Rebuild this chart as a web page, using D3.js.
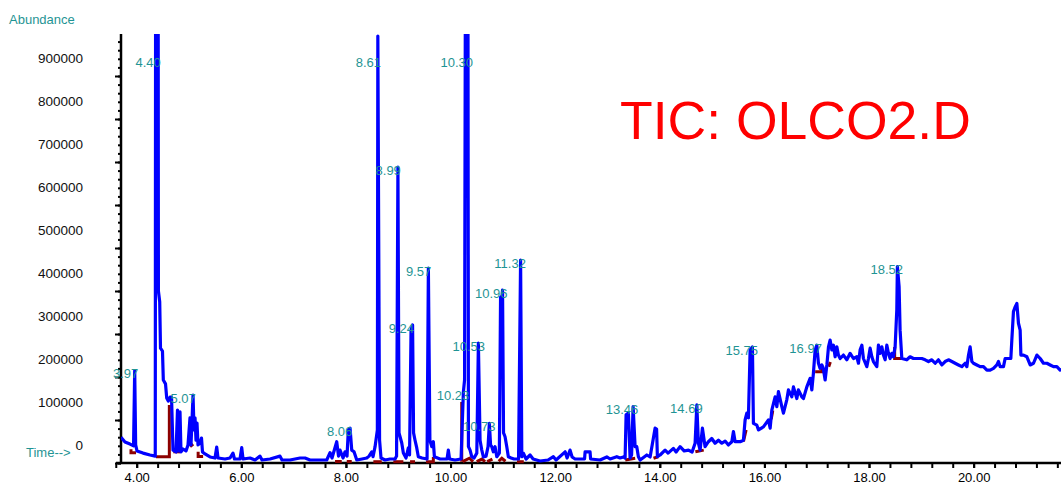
<!DOCTYPE html>
<html><head><meta charset="utf-8">
<script src="https://cdn.jsdelivr.net/npm/d3@7"></script>
<style>html,body{margin:0;padding:0;background:#fff;} svg{display:block;font-family:"Liberation Sans",Arial,sans-serif;}</style>
</head><body><svg id="chart" width="1061" height="484"></svg>
<script>
// ---- data ----
const ticTrace = [[3.700,60000],[3.776,49000],[3.872,44000],[3.940,40000],[3.962,215000],[3.980,42000],[4.006,28000],[4.121,23000],[4.254,18600],[4.355,16000],[4.362,1200000],[4.410,1200000],[4.415,400000],[4.440,375000],[4.455,267000],[4.493,260000],[4.509,193000],[4.551,184000],[4.574,151000],[4.604,144000],[4.637,153000],[4.666,153000],[4.694,30000],[4.752,25600],[4.780,123000],[4.799,28000],[4.828,119000],[4.847,25600],[4.885,32600],[4.943,28000],[4.981,42000],[5.019,105000],[5.038,42000],[5.058,100000],[5.077,158000],[5.096,77000],[5.115,105000],[5.134,53000],[5.153,93000],[5.172,42000],[5.211,46500],[5.239,58000],[5.258,25600],[5.306,21000],[5.402,14000],[5.497,11600],[5.530,37000],[5.555,11600],[5.689,9300],[5.784,11600],[5.841,23000],[5.870,9300],[5.975,9300],[6.008,35600],[6.033,9300],[6.167,11600],[6.262,7000],[6.358,16000],[6.396,7000],[6.549,9300],[6.740,16000],[6.778,7000],[6.931,7000],[7.027,9300],[7.123,11600],[7.218,11600],[7.314,7000],[7.505,7000],[7.633,7000],[7.696,24000],[7.734,11600],[7.824,49500],[7.858,16000],[7.887,30000],[7.945,11600],[7.983,26000],[8.021,16000],[8.046,77000],[8.079,81000],[8.111,30000],[8.155,26000],[8.207,7000],[8.308,9300],[8.398,11600],[8.442,16000],[8.494,26000],[8.518,14600],[8.557,38000],[8.601,77000],[8.610,993000],[8.643,53000],[8.671,11600],[8.748,7000],[8.843,9300],[8.939,9300],[8.968,16000],[8.994,688000],[9.015,70000],[9.067,46500],[9.098,23000],[9.149,11600],[9.193,35000],[9.216,18600],[9.245,309000],[9.274,321000],[9.293,70000],[9.321,53000],[9.354,35000],[9.384,14600],[9.455,11600],[9.551,9300],[9.576,453000],[9.605,53000],[9.641,38000],[9.671,49500],[9.691,14600],[9.800,9300],[9.933,9300],[9.958,30000],[9.981,9300],[10.086,7000],[10.201,9300],[10.245,165000],[10.268,193000],[10.285,1200000],[10.332,1200000],[10.342,38000],[10.373,30000],[10.406,14600],[10.450,11600],[10.502,23000],[10.532,279000],[10.564,53000],[10.597,30000],[10.628,14000],[10.679,16000],[10.717,38000],[10.742,92000],[10.765,42000],[10.788,38000],[10.818,26000],[10.851,38000],[10.884,14600],[10.933,23000],[10.956,386000],[10.975,367000],[10.994,402000],[11.013,70000],[11.042,61000],[11.075,38000],[11.105,14600],[11.157,11600],[11.214,9300],[11.300,9300],[11.339,472000],[11.362,14600],[11.392,22600],[11.444,9300],[11.520,18600],[11.578,9300],[11.711,4700],[11.864,7000],[11.966,14600],[12.017,7000],[12.190,26000],[12.228,11600],[12.285,30000],[12.324,14000],[12.381,9300],[12.477,9300],[12.562,9300],[12.572,26000],[12.667,26000],[12.677,9300],[12.859,7000],[12.987,14000],[13.050,9300],[13.178,14600],[13.241,11600],[13.304,14000],[13.337,11600],[13.356,112000],[13.400,116000],[13.432,11600],[13.461,18600],[13.490,131000],[13.528,38000],[13.560,38000],[13.591,14600],[13.624,7000],[13.752,18600],[13.815,14000],[13.910,81000],[13.939,79000],[13.954,14600],[14.006,18600],[14.101,30000],[14.159,23000],[14.260,34000],[14.312,25600],[14.388,38000],[14.465,28000],[14.547,30000],[14.618,25600],[14.675,46000],[14.708,135000],[14.738,46000],[14.771,30000],[14.815,81000],[14.866,38000],[14.929,49500],[14.994,57000],[15.057,46000],[15.121,53000],[15.186,46000],[15.249,51000],[15.312,42000],[15.377,49500],[15.408,73000],[15.440,49500],[15.536,49500],[15.599,53000],[15.631,100000],[15.664,116000],[15.694,105000],[15.727,263000],[15.771,270000],[15.790,92000],[15.855,88000],[15.887,77000],[15.981,84000],[16.077,100000],[16.110,81000],[16.142,123000],[16.205,154000],[16.238,131000],[16.268,166000],[16.333,131000],[16.364,116000],[16.428,147000],[16.459,170000],[16.524,154000],[16.555,177000],[16.620,150000],[16.650,170000],[16.715,154000],[16.746,150000],[16.811,177000],[16.874,197000],[16.907,170000],[16.937,209000],[16.970,263000],[17.002,274000],[17.033,232000],[17.065,220000],[17.098,228000],[17.124,221000],[17.161,193000],[17.194,228000],[17.225,270000],[17.256,286000],[17.289,263000],[17.320,274000],[17.352,247000],[17.385,270000],[17.415,251000],[17.448,243000],[17.511,251000],[17.576,240000],[17.639,255000],[17.702,243000],[17.767,247000],[17.798,232000],[17.830,263000],[17.863,274000],[17.893,243000],[17.958,224000],[17.989,243000],[18.021,267000],[18.054,247000],[18.084,236000],[18.149,224000],[18.180,274000],[18.212,255000],[18.245,270000],[18.275,251000],[18.308,240000],[18.340,274000],[18.371,255000],[18.403,243000],[18.436,255000],[18.466,247000],[18.499,270000],[18.531,356000],[18.542,457000],[18.575,410000],[18.594,309000],[18.627,243000],[18.722,240000],[18.785,247000],[18.849,243000],[18.914,243000],[19.009,243000],[19.073,240000],[19.136,236000],[19.201,240000],[19.264,232000],[19.327,240000],[19.392,228000],[19.455,236000],[19.518,240000],[19.583,236000],[19.646,232000],[19.710,228000],[19.775,224000],[19.838,232000],[19.870,224000],[19.902,251000],[19.933,270000],[19.966,236000],[19.996,232000],[20.061,228000],[20.124,224000],[20.188,224000],[20.253,216000],[20.316,216000],[20.379,220000],[20.444,228000],[20.475,236000],[20.507,224000],[20.570,224000],[20.602,243000],[20.711,243000],[20.730,286000],[20.761,352000],[20.794,363000],[20.826,371000],[20.857,325000],[20.889,309000],[20.903,251000],[20.953,251000],[21.018,247000],[21.081,228000],[21.144,232000],[21.209,251000],[21.272,243000],[21.335,232000],[21.400,232000],[21.463,228000],[21.526,224000],[21.591,224000],[21.654,216000],[21.730,220000]];

const baselineSegs = [
  [[3.891,32000],[3.891,24000],[3.987,24000]],
  [[4.369,14600],[4.624,14600],[4.624,135000]],
  [[4.70,26000],[4.83,26000]],
  [[5.02,38000],[5.08,44000]],
  [[5.175,26000],[5.175,15000],[5.27,15000]],
  [[7.792,3500],[7.920,3500]],
  [[8.016,3500],[8.111,3500]],
  [[8.524,3000],[8.685,3000]],
  [[8.906,3000],[9.098,3000]],
  [[9.226,3000],[9.321,3000]],
  [[9.532,3000],[9.671,3000],[9.671,14000]],
  [[10.214,3000],[10.214,142000]],
  [[10.23,3000],[10.36,11000],[10.43,3000]],
  [[10.50,3000],[10.60,9000],[10.66,3000]],
  [[10.70,3000],[10.80,9000]],
  [[10.92,4000],[10.98,11000],[11.05,4000]],
  [[11.27,3000],[11.40,3000]],
  [[13.34,7000],[13.53,11000]],
  [[13.88,11000],[13.97,14600]],
  [[14.68,26000],[14.84,30000]],
  [[15.60,50000],[15.65,77000]],
  [[16.13,102000],[16.16,122000]],
  [[16.97,212000],[17.10,212000],[17.10,224000]],
  [[17.23,224000],[17.26,235000]],
  [[18.49,270000],[18.49,243000],[18.62,243000]]
];

const peakLabels = ["3.97","4.40","5.07","8.06","8.61","8.99","9.24","9.57","10.23","10.30","10.53","10.73","10.96","11.32","13.46","14.69","15.75","16.97","18.52"];
const peakTimes  = [3.97,4.40,5.07,8.06,8.61,8.99,9.24,9.57,10.23,10.30,10.53,10.73,10.96,11.32,13.46,14.69,15.75,16.97,18.52];
const peakApex   = [215000,1200000,158000,81000,993000,688000,321000,453000,165000,1200000,279000,92000,402000,472000,131000,135000,270000,274000,457000];

const yLabelValues = [0,100000,200000,300000,400000,500000,600000,700000,800000,900000];
const yLabelTexts  = ["0","100000","200000","300000","400000","500000","600000","700000","800000","900000"];
const xLabelTimes  = [4,6,8,10,12,14,16,18,20];
const xLabelTexts  = ["4.00","6.00","8.00","10.00","12.00","14.00","16.00","18.00","20.00"];
const titleText = "TIC: OLCO2.D";
const yAxisTitle = "Abundance";
const xAxisTitle = "Time-->";

// ---- drawing ----
const svg = d3.select("#chart");
const W = 1061, H = 484;
const x = d3.scaleLinear().domain([3.70, 21.67]).range([121, 1061]);
const y = d3.scaleLinear().domain([0, 1000000]).range([463, 33]);
const teal = "#1f9494";

svg.append("defs").append("clipPath").attr("id","plotclip")
  .append("rect").attr("x",121).attr("y",34).attr("width",W-121).attr("height",440);

// x axis minor ticks (every 0.4 min)
const xMinor = d3.range(0, 46).map(i => +(3.6 + 0.4*i).toFixed(2));
const gxm = svg.append("g").attr("transform",`translate(0,${y(0)})`)
  .call(d3.axisBottom(x).tickValues(xMinor).tickSize(5).tickSizeOuter(0).tickFormat(""));
gxm.select(".domain").remove();
const gx = svg.append("g").attr("transform",`translate(0,${y(0)})`)
  .call(d3.axisBottom(x).tickValues(xLabelTimes).tickSize(5).tickSizeOuter(0).tickFormat((d,i)=>xLabelTexts[i]));
gx.select(".domain").remove();
gx.selectAll("text").attr("y",19).attr("dy",null).attr("font-size","13px").attr("fill","#000").attr("font-family",null);
svg.selectAll(".tick line").attr("stroke","#000").attr("stroke-width",2);

// y axis
const yMinor = d3.range(0, 50).map(i => i*20000);
const gym = svg.append("g").attr("transform","translate(121,0)")
  .call(d3.axisLeft(y).tickValues(yMinor).tickSize(3).tickSizeOuter(0).tickFormat(""));
gym.select(".domain").remove();
const gy = svg.append("g").attr("transform","translate(121,0)")
  .call(d3.axisLeft(y).tickValues(yLabelValues).tickSize(6).tickSizeOuter(0).tickPadding(32).tickFormat((d,i)=>yLabelTexts[i]));
gy.select(".domain").remove();
gy.selectAll("text").attr("y",-13.6).attr("dy",null).attr("font-size","13.5px").attr("fill","#111").attr("font-family",null);
svg.selectAll(".tick line").attr("stroke","#000").attr("stroke-width",2);

// axis lines
svg.append("line").attr("x1",116).attr("x2",W).attr("y1",y(0)).attr("y2",y(0))
  .attr("stroke","#000").attr("stroke-width",2.5);
svg.append("line").attr("x1",121).attr("x2",121).attr("y1",y(1000000)+1).attr("y2",y(0)+1)
  .attr("stroke","#000").attr("stroke-width",2.5);

// traces
const line = d3.line().x(d => x(d[0])).y(d => y(d[1]));
const plot = svg.append("g").attr("clip-path","url(#plotclip)");
plot.selectAll("path.base").data(baselineSegs).join("path").attr("class","base")
  .attr("d", line).attr("fill","none").attr("stroke","#8c0000").attr("stroke-width",3);
plot.append("path").datum(ticTrace).attr("d", line).attr("fill","none")
  .attr("stroke","#0000ff").attr("stroke-width",3.2).attr("stroke-linejoin","round");

// peak labels
svg.selectAll("text.peak").data(peakLabels).join("text").attr("class","peak")
  .attr("x",(d,i)=>x(peakTimes[i]) - 9.5)
  .attr("y",(d,i)=>Math.max(y(peakApex[i]), 59) + 3 + 4.6)
  .attr("text-anchor","middle").attr("font-size","13px").attr("fill",teal)
  .text(d=>d);

// titles
svg.append("text").attr("x",9).attr("y",23.5).attr("font-size","13px").attr("fill",teal).text(yAxisTitle);
svg.append("text").attr("x",26).attr("y",457).attr("font-size","13px").attr("fill",teal).text(xAxisTitle);
svg.append("text").attr("x",620).attr("y",139).attr("font-size","53.5px").attr("fill","#ff0000").text(titleText);
</script></body></html>
